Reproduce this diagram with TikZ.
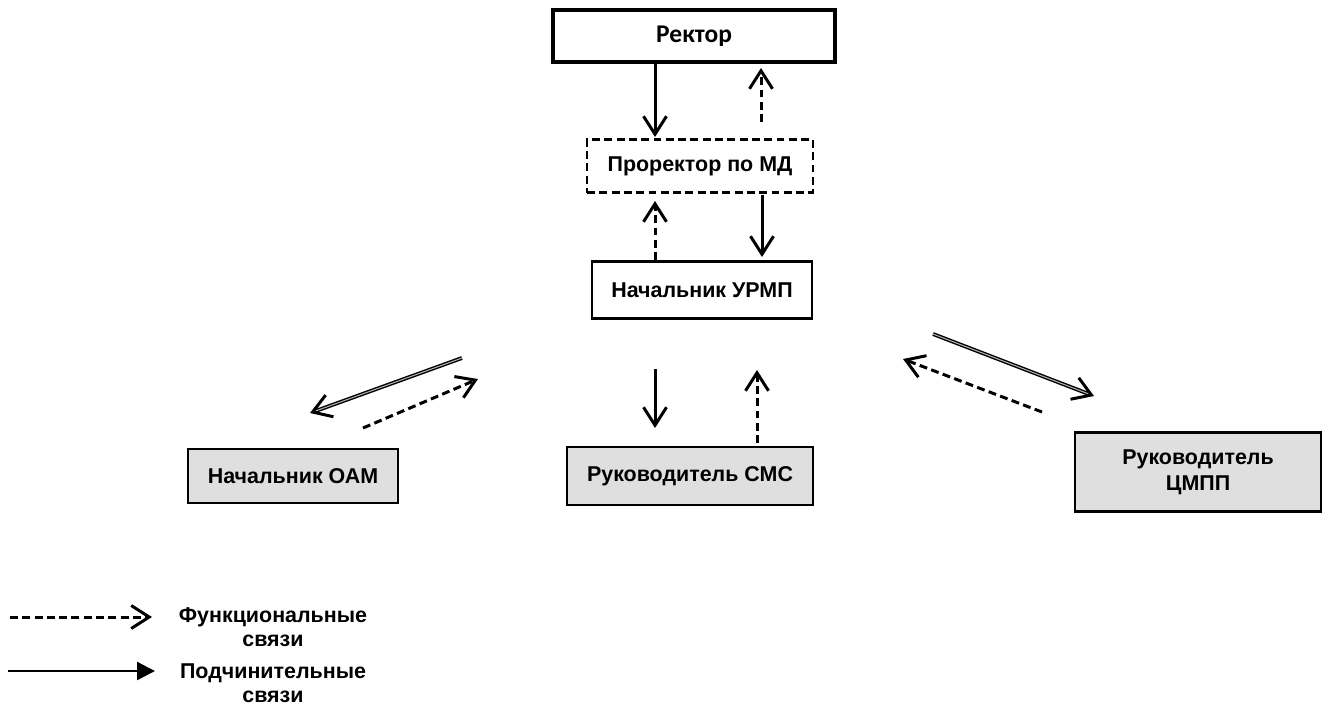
\documentclass[tikz,border=0pt]{standalone}
\usepackage{fontspec}
\setmainfont{Liberation Sans}
\newfontfamily\carlito{Carlito}
\usetikzlibrary{arrows.meta}
\begin{document}
\begin{tikzpicture}[
			x=0.02cm, y=-0.02cm,
			font=\fontsize{12.2}{13.5}\selectfont\bfseries,
			unit/.style={rectangle,draw,line width=1.4pt,align=center,inner sep=0pt},
			sub unit/.style={unit,fill=gray!25},
			sub/.style={line width=1.7pt,-{Straight Barb[length=3.6mm,width=4.6mm,line width=1.7pt]}},
			func/.style={sub,dash pattern=on 4.5pt off 2.5pt},
			twin/.style={sub,double,double distance=0.6pt,line width=0.8pt,double=gray!60}
		]
		\useasboundingbox (0,0) rectangle (1324,711);
		% boxes
		\node[unit,line width=1.9pt,minimum width=5.64cm,minimum height=1.04cm] (rector) at (694,36) {\carlito\fontsize{14.5}{16}\selectfont\bfseries Ректор};
		\node[unit,dash pattern=on 4.5pt off 2.5pt,minimum width=4.52cm,minimum height=1.06cm] (prorector) at (700,166) {Проректор по МД};
		\node[unit,minimum width=4.4cm,minimum height=1.14cm] (urmp) at (702,290) {Начальник УРМП};
		\node[sub unit,minimum width=4.2cm,minimum height=1.08cm] (oam) at (293,476) {Начальник ОАМ};
		\node[sub unit,minimum width=4.92cm,minimum height=1.16cm] (sms) at (690,476) {Руководитель СМС};
		\node[sub unit,minimum width=4.92cm,minimum height=1.58cm,font=\fontsize{12.2}{15}\selectfont\bfseries] (cmpp) at (1198,472) {Руководитель\\ЦМПП};
		% free ends
		\coordinate (a1) at (655,62);  \coordinate (a2) at (655,137);
		\coordinate (b1) at (761,122); \coordinate (b2) at (761,68);
		\coordinate (c1) at (762,195); \coordinate (c2) at (762,257);
		\coordinate (d1) at (655,260); \coordinate (d2) at (655,201);
		\coordinate (e1) at (462,358); \coordinate (e2) at (310,413);
		\coordinate (f1) at (363,428); \coordinate (f2) at (478,379);
		\coordinate (g1) at (655,369); \coordinate (g2) at (655,428);
		\coordinate (h1) at (757,443); \coordinate (h2) at (757,370);
		\coordinate (i1) at (933,334); \coordinate (i2) at (1094,396);
		\coordinate (j1) at (1042,412); \coordinate (j2) at (903,359);
		% links
		\draw[sub] (a1) -- (a2);
		\draw[func] (b1) -- (b2);
		\draw[sub] (c1) -- (c2);
		\draw[func] (d1) -- (d2);
		\draw[twin] (e1) -- (e2);
		\draw[func] (f1) -- (f2);
		\draw[sub] (g1) -- (g2);
		\draw[func] (h1) -- (h2);
		\draw[twin] (i1) -- (i2);
		\draw[func] (j1) -- (j2);
		% legend
		\coordinate (k1) at (10,617);  \coordinate (k2) at (152,617);
		\coordinate (l1) at (8,671);   \coordinate (l2) at (155,671);
		\draw[func] (k1) -- (k2);
		\draw[line width=1.4pt,-{Triangle[length=3.6mm,width=3.6mm]}] (l1) -- (l2);
		\node[align=center] (funclabel) at (273,627) {Функциональные\\связи};
		\node[align=center] (sublabel) at (273,683) {Подчинительные\\связи};
	\end{tikzpicture}
\end{document}
